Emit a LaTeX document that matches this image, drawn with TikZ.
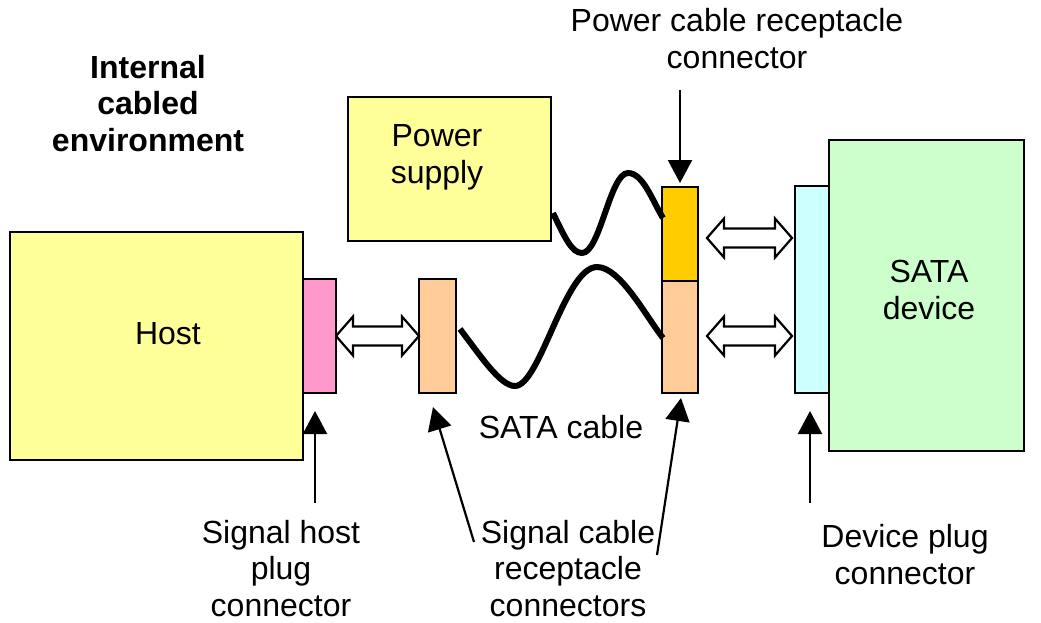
\documentclass[tikz,border=0pt]{standalone}
\usepackage{fontspec}
\setmainfont{Liberation Sans}
\usetikzlibrary{arrows.meta,calc}
\definecolor{hostyellow}{HTML}{FFFF99}
\definecolor{plugpink}{HTML}{FF99CC}
\definecolor{recorange}{HTML}{FFCC99}
\definecolor{pwrgold}{HTML}{FFCC00}
\definecolor{devcyan}{HTML}{CCFFFF}
\definecolor{devgreen}{HTML}{CCFFCC}
\newcommand\dblarr[2]{%
  \draw[blk] let \p1=(#1), \p2=(#2) in
    (\p1) -- (\x1+17pt,\y1+19.5pt) -- (\x1+17pt,\y1+9.5pt) -- (\x2-17pt,\y1+9.5pt)
    -- (\x2-17pt,\y1+19.5pt) -- (\x2,\y1) -- (\x2-17pt,\y1-19.5pt) -- (\x2-17pt,\y1-9.5pt)
    -- (\x1+17pt,\y1-9.5pt) -- (\x1+17pt,\y1-19.5pt) -- cycle;}
\begin{document}
\begin{tikzpicture}[x=1pt,y=-1pt,
  box/.style={draw=black, line width=2.5pt, inner sep=0pt, outer sep=0pt, anchor=north west},
  lbl/.style={font=\fontsize{32}{36.5}\selectfont, align=center, inner sep=0pt},
  cable/.style={line width=6pt, black},
  ptr/.style={line width=2.2pt, -{Triangle[length=23pt,width=24pt]}},
  blk/.style={draw, line width=2.2pt, fill=white, line join=miter}
]
\useasboundingbox[fill=white] (0,0) rectangle (1041,622);

% boxes
\node[box, fill=hostyellow, minimum width=293pt, minimum height=228pt] (host) at (10,232) {};
\node[box, fill=hostyellow, minimum width=203pt, minimum height=144pt] (power) at (348,97) {};
\node[box, fill=plugpink, minimum width=33pt, minimum height=114pt] (plug) at (303,279) {};
\node[box, fill=recorange, minimum width=37pt, minimum height=114pt] (recL) at (419,279) {};
\node[box, fill=pwrgold, minimum width=36pt, minimum height=94pt] (pwrrec) at (662,187) {};
\node[box, fill=recorange, minimum width=36pt, minimum height=112pt] (recR) at (662,281) {};
\node[box, fill=devcyan, minimum width=34pt, minimum height=207pt] (devplug) at (795,186) {};
\node[box, fill=devgreen, minimum width=195pt, minimum height=311pt] (device) at (829,140) {};

% texts in boxes
\node[lbl, anchor=base] (hosttxt) at (168,344) {Host};
\node[lbl, anchor=base] (powertxt) at (437,183) {Power\\supply};
\node[lbl, anchor=base] (devtxt) at (929,319) {SATA\\device};

% cables
\draw[cable] ($(power.south east)+(2,-28)$) .. controls (565,238) and (572,253) .. (582,253)
  .. controls (600,253) and (610,173) .. (628,173)
  .. controls (643,173) and (652,200) .. ($(pwrrec.west)+(1,-16)$);
\draw[cable] ($(recL.east)+(4,-7)$) .. controls (480,355) and (500,386) .. (515,386)
  .. controls (540,386) and (565,267) .. (597,267)
  .. controls (620,267) and (645,315) .. ($(recR.west)+(1,1)$);

% block double arrows
\coordinate (a1l) at ($(plug.east)+(0,0)$);
\coordinate (a1r) at ($(recL.west)+(0,0)$);
\dblarr{a1l}{a1r}
\coordinate (a2l) at ($(pwrrec.east)+(9,4)$);
\coordinate (a2r) at ($(devplug.west |- a2l)+(-3,0)$);
\dblarr{a2l}{a2r}
\coordinate (a3l) at ($(recR.east)+(9,-1)$);
\coordinate (a3r) at ($(devplug.west |- a3l)+(-3,0)$);
\dblarr{a3l}{a3r}

% labels
\node[lbl, font=\fontsize{32}{36.5}\selectfont\bfseries, anchor=base] (env) at (148,151) {Internal\\cabled\\environment};
\node[lbl, anchor=base] (pwrlbl) at (737,68) {Power cable receptacle\\connector};
\node[lbl, anchor=base] (cablelbl) at (561,438) {SATA cable};
\node[lbl, anchor=base] (plugLbl) at (281,616) {Signal host\\plug\\connector};
\node[lbl, anchor=base] (recLbl) at (568,616) {Signal cable\\receptacle\\connectors};
\node[lbl, anchor=base] (devLbl) at (905,584) {Device plug\\connector};

% pointer arrows
\coordinate (p1s) at (680,90);
\draw[ptr, shorten >=4pt] (p1s) -- (pwrrec.north);
\coordinate (p2s) at (315,503);
\draw[ptr] (p2s) -- ($(plug.south west)+(12,18)$);
\coordinate (p3s) at (474,542);
\draw[ptr] (p3s) -- ($(recL.south west)+(14,14)$);
\coordinate (p4s) at (657,555);
\draw[ptr] (p4s) -- ($(recR.south west)+(19,5)$);
\coordinate (p5s) at (810,503);
\draw[ptr] (p5s) -- ($(devplug.south west)+(15,18)$);
\end{tikzpicture}
\end{document}
